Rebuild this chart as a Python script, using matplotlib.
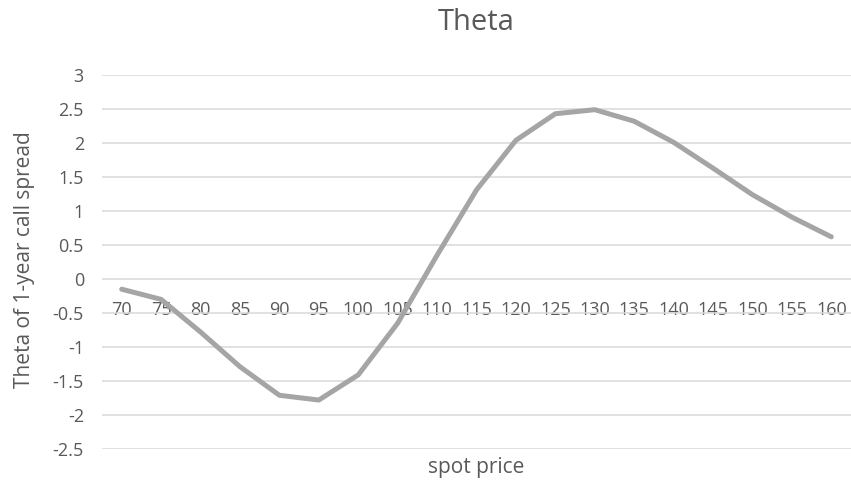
import matplotlib
matplotlib.use("Agg")
import matplotlib.pyplot as plt

# ====================================================
# DATA
# ====================================================

spot = [70, 75, 80, 85, 90, 95, 100, 105, 110, 115,
        120, 125, 130, 135, 140, 145, 150, 155, 160]

theta = [-0.15, -0.3, -0.78, -1.29, -1.71, -1.78, -1.41, -0.65, 0.35, 1.31,
         2.04, 2.43, 2.49, 2.32, 2.01, 1.63, 1.24, 0.91, 0.62]

y_ticks = [3, 2.5, 2, 1.5, 1, 0.5, 0, -0.5, -1, -1.5, -2, -2.5]

text_color = "#595959"
font = ["Open Sans", "DejaVu Sans"]

# ====================================================
# FIGURE
# ====================================================

fig = plt.figure(figsize=(8.51, 4.83), dpi=100)
ax = fig.add_axes([102 / 851, 34 / 483, 749 / 851, 374 / 483])

pos = list(range(len(spot)))

ax.plot(pos, theta, color="#a5a5a5", linewidth=3.6,
        solid_capstyle="round", solid_joinstyle="round", zorder=3)

ax.spines["bottom"].set_position(("data", 0))

ax.set_xlim(-0.5, len(spot) - 0.5)
ax.set_ylim(-2.5, 3)

ax.set_yticks(y_ticks)
ax.set_yticklabels([f"{v:g}" for v in y_ticks], fontfamily=font,
                   fontsize=13)
ax.yaxis.grid(True, color="#d9d9d9", linewidth=1.1)
ax.set_axisbelow(True)

ax.set_xticks(pos)
ax.set_xticklabels([str(s) for s in spot], fontfamily=font,
                   fontsize=13)
ax.tick_params(axis="x", length=0, pad=16, labelcolor=text_color)
ax.tick_params(axis="y", length=0, pad=13, labelcolor=text_color)

for side in ["top", "right", "left", "bottom"]:
    ax.spines[side].set_visible(False)

fig.text(0.5 * (102 + 851) / 851, 1 - 468 / 483, "spot price",
         ha="center", va="center", fontfamily=font, fontsize=15,
         color=text_color)

fig.text(25 / 851, 1 - 260 / 483, "Theta of 1-year call spread",
         ha="center", va="center", rotation=90, fontfamily=font,
         fontsize=15, color=text_color)

fig.text(0.5 * (102 + 851) / 851, 1 - 23 / 483, "Theta",
         ha="center", va="center", fontfamily=font, fontsize=21,
         color=text_color)

fig.savefig("out.png", dpi=100)
plt.close(fig)
